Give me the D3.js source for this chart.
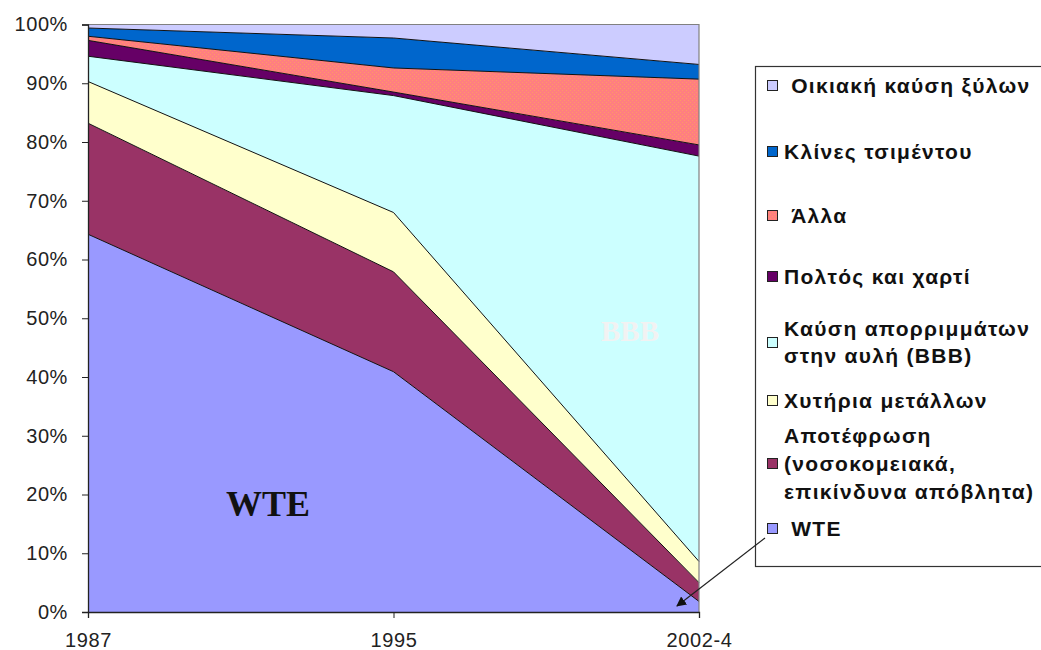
<!DOCTYPE html>
<html><head><meta charset="utf-8">
<script src="https://cdn.jsdelivr.net/npm/d3@7"></script>
<style>
body{margin:0;background:#fff;}
svg{display:block;}
</style></head>
<body>
<svg id="chart" width="1041" height="650"></svg>
<script>
// ---- data ----
const categories = ["1987", "1995", "2002-4"];
const seriesNames = [
  "WTE",
  "Αποτέφρωση (νοσοκομειακά, επικίνδυνα απόβλητα)",
  "Χυτήρια μετάλλων",
  "Καύση απορριμμάτων στην αυλή (BBB)",
  "Πολτός και χαρτί",
  "Άλλα",
  "Κλίνες τσιμέντου",
  "Οικιακή καύση ξύλων"
];
const wte         = [64.3, 40.9, 1.8];
const incineration= [18.9, 17.0, 3.2];
const smelters    = [7.1, 10.1, 3.6];
const backyard    = [4.3, 19.9, 69.0];
const pulpPaper   = [2.7, 0.6, 1.9];
const other       = [0.7, 4.1, 11.2];
const cementKilns = [1.4, 5.1, 2.5];
const residential = [0.6, 2.3, 6.8];
const yTicks = [0, 10, 20, 30, 40, 50, 60, 70, 80, 90, 100];
const colors = ["#9999ff", "#993366", "#ffffcc", "#ccffff", "#660066", "#ff8077", "#0066cc", "#ccccff"];

const seriesValues = [wte, incineration, smelters, backyard, pulpPaper, other, cementKilns, residential];
const keys = seriesNames.map((d, i) => "s" + i);
const table = categories.map((c, j) => {
  const row = {cat: c};
  keys.forEach((k, i) => row[k] = seriesValues[i][j]);
  return row;
});

const svg = d3.select("#chart");
const x = d3.scalePoint().domain(categories).range([88, 699]);
const y = d3.scaleLinear().domain([0, 100]).range([612, 24.5]);

const stack = d3.stack().keys(keys).offset(d3.stackOffsetExpand);
const layers = stack(table);

const area = d3.area().x(d => x(d.data.cat)).y0(d => y(d[0] * 100)).y1(d => y(d[1] * 100));
const topLine = d3.line().x(d => x(d.data.cat)).y(d => y(d[1] * 100));

// speckle pattern for "Άλλα"
const defs = svg.append("defs");
const pat = defs.append("pattern").attr("id", "speckle").attr("patternUnits", "userSpaceOnUse")
  .attr("width", 4).attr("height", 4);
pat.append("rect").attr("width", 4).attr("height", 4).attr("fill", "#ff7f80");
pat.append("rect").attr("x", 0).attr("y", 0).attr("width", 1).attr("height", 1).attr("fill", "#ff9966");
pat.append("rect").attr("x", 2).attr("y", 2).attr("width", 1).attr("height", 1).attr("fill", "#ff9966");

svg.append("g").selectAll("path").data(layers).join("path")
  .attr("d", area)
  .attr("fill", (d, i) => i === 5 ? "url(#speckle)" : colors[i]);

svg.append("g").selectAll("path").data(layers.slice(0, layers.length - 1)).join("path")
  .attr("d", topLine)
  .attr("fill", "none").attr("stroke", "#111").attr("stroke-width", 1);

// frame top/right
svg.append("path")
  .attr("d", `M${x.range()[0]},${y(100)}H${x.range()[1]}V${y(0)}`)
  .attr("fill", "none").attr("stroke", "#808080").attr("stroke-width", 1.2);

// axes
const labelFont = "Liberation Sans, Arial, sans-serif";
const yAxis = d3.axisLeft(y).tickValues(yTicks).tickFormat(d => d + "%").tickSize(6).tickPadding(14);
const gy = svg.append("g").attr("transform", `translate(${x.range()[0]},0)`).call(yAxis);
gy.select(".domain").attr("stroke", "#222").attr("stroke-width", 1.3);
gy.selectAll(".tick line").attr("stroke", "#222");
gy.selectAll("text").attr("font-family", labelFont).attr("font-size", 20)
  .attr("letter-spacing", 0.6).attr("fill", "#222");

const xAxis = d3.axisBottom(x).tickSize(6).tickPadding(15);
const gx = svg.append("g").attr("transform", `translate(0,${y(0)})`).call(xAxis);
gx.select(".domain").attr("stroke", "#222").attr("stroke-width", 1.3);
gx.selectAll(".tick line").attr("stroke", "#222");
gx.selectAll("text").attr("font-family", labelFont).attr("font-size", 20)
  .attr("letter-spacing", 0.6).attr("fill", "#222");

// in-chart labels
svg.append("text").attr("x", 268).attr("y", 516).attr("text-anchor", "middle")
  .attr("font-family", "Liberation Serif, Times New Roman, serif").attr("font-weight", "bold")
  .attr("font-size", 36).attr("fill", "#111").text("WTE");
svg.append("text").attr("x", 630).attr("y", 341).attr("text-anchor", "middle")
  .attr("font-family", "Liberation Serif, Times New Roman, serif").attr("font-weight", "bold")
  .attr("font-size", 29).attr("fill", "#f2f2f2").text("BBB");

// legend
const lg = svg.append("g");
lg.append("rect").attr("x", 755.5).attr("y", 66.5).attr("width", 300).attr("height", 500)
  .attr("fill", "#fff").attr("stroke", "#333").attr("stroke-width", 1.2);

const legendItems = [
  {i: 7, sq: 86, lines: [[" Οικιακή καύση ξύλων", 93]]},
  {i: 6, sq: 152, lines: [["Κλίνες τσιμέντου", 159]]},
  {i: 5, sq: 216, lines: [[" Άλλα", 223]]},
  {i: 4, sq: 277, lines: [["Πολτός και χαρτί", 284]]},
  {i: 3, sq: 343, lines: [["Καύση απορριμμάτων", 336], ["στην αυλή (BBB)", 363]]},
  {i: 2, sq: 401, lines: [["Χυτήρια μετάλλων", 408]]},
  {i: 1, sq: 464, lines: [["Αποτέφρωση", 443], ["(νοσοκομειακά,", 471], ["επικίνδυνα απόβλητα)", 499]]},
  {i: 0, sq: 529, lines: [[" WTE", 536]]}
];
legendItems.forEach(it => {
  lg.append("rect").attr("x", 767.5).attr("y", it.sq - 5.5).attr("width", 10).attr("height", 10)
    .attr("fill", it.i === 5 ? "url(#speckle)" : colors[it.i]).attr("stroke", "#222").attr("stroke-width", 1);
  it.lines.forEach(([t, yy]) => {
    lg.append("text").attr("x", 784).attr("y", yy)
      .attr("font-family", labelFont).attr("font-weight", "bold")
      .attr("font-size", 21).attr("letter-spacing", 1.3).attr("fill", "#111").text(t.replace(/^ /, "\u00a0"));
  });
});

// arrow
defs.append("marker").attr("id", "arrow").attr("viewBox", "0 0 10 10").attr("refX", 9).attr("refY", 5)
  .attr("markerWidth", 10).attr("markerHeight", 10).attr("orient", "auto-start-reverse")
  .attr("markerUnits", "userSpaceOnUse")
  .append("path").attr("d", "M0,0L10,5L0,10z").attr("fill", "#111");
svg.append("line").attr("x1", 765).attr("y1", 538).attr("x2", 677).attr("y2", 606)
  .attr("stroke", "#222").attr("stroke-width", 1.2).attr("marker-end", "url(#arrow)");
</script>
</body></html>
